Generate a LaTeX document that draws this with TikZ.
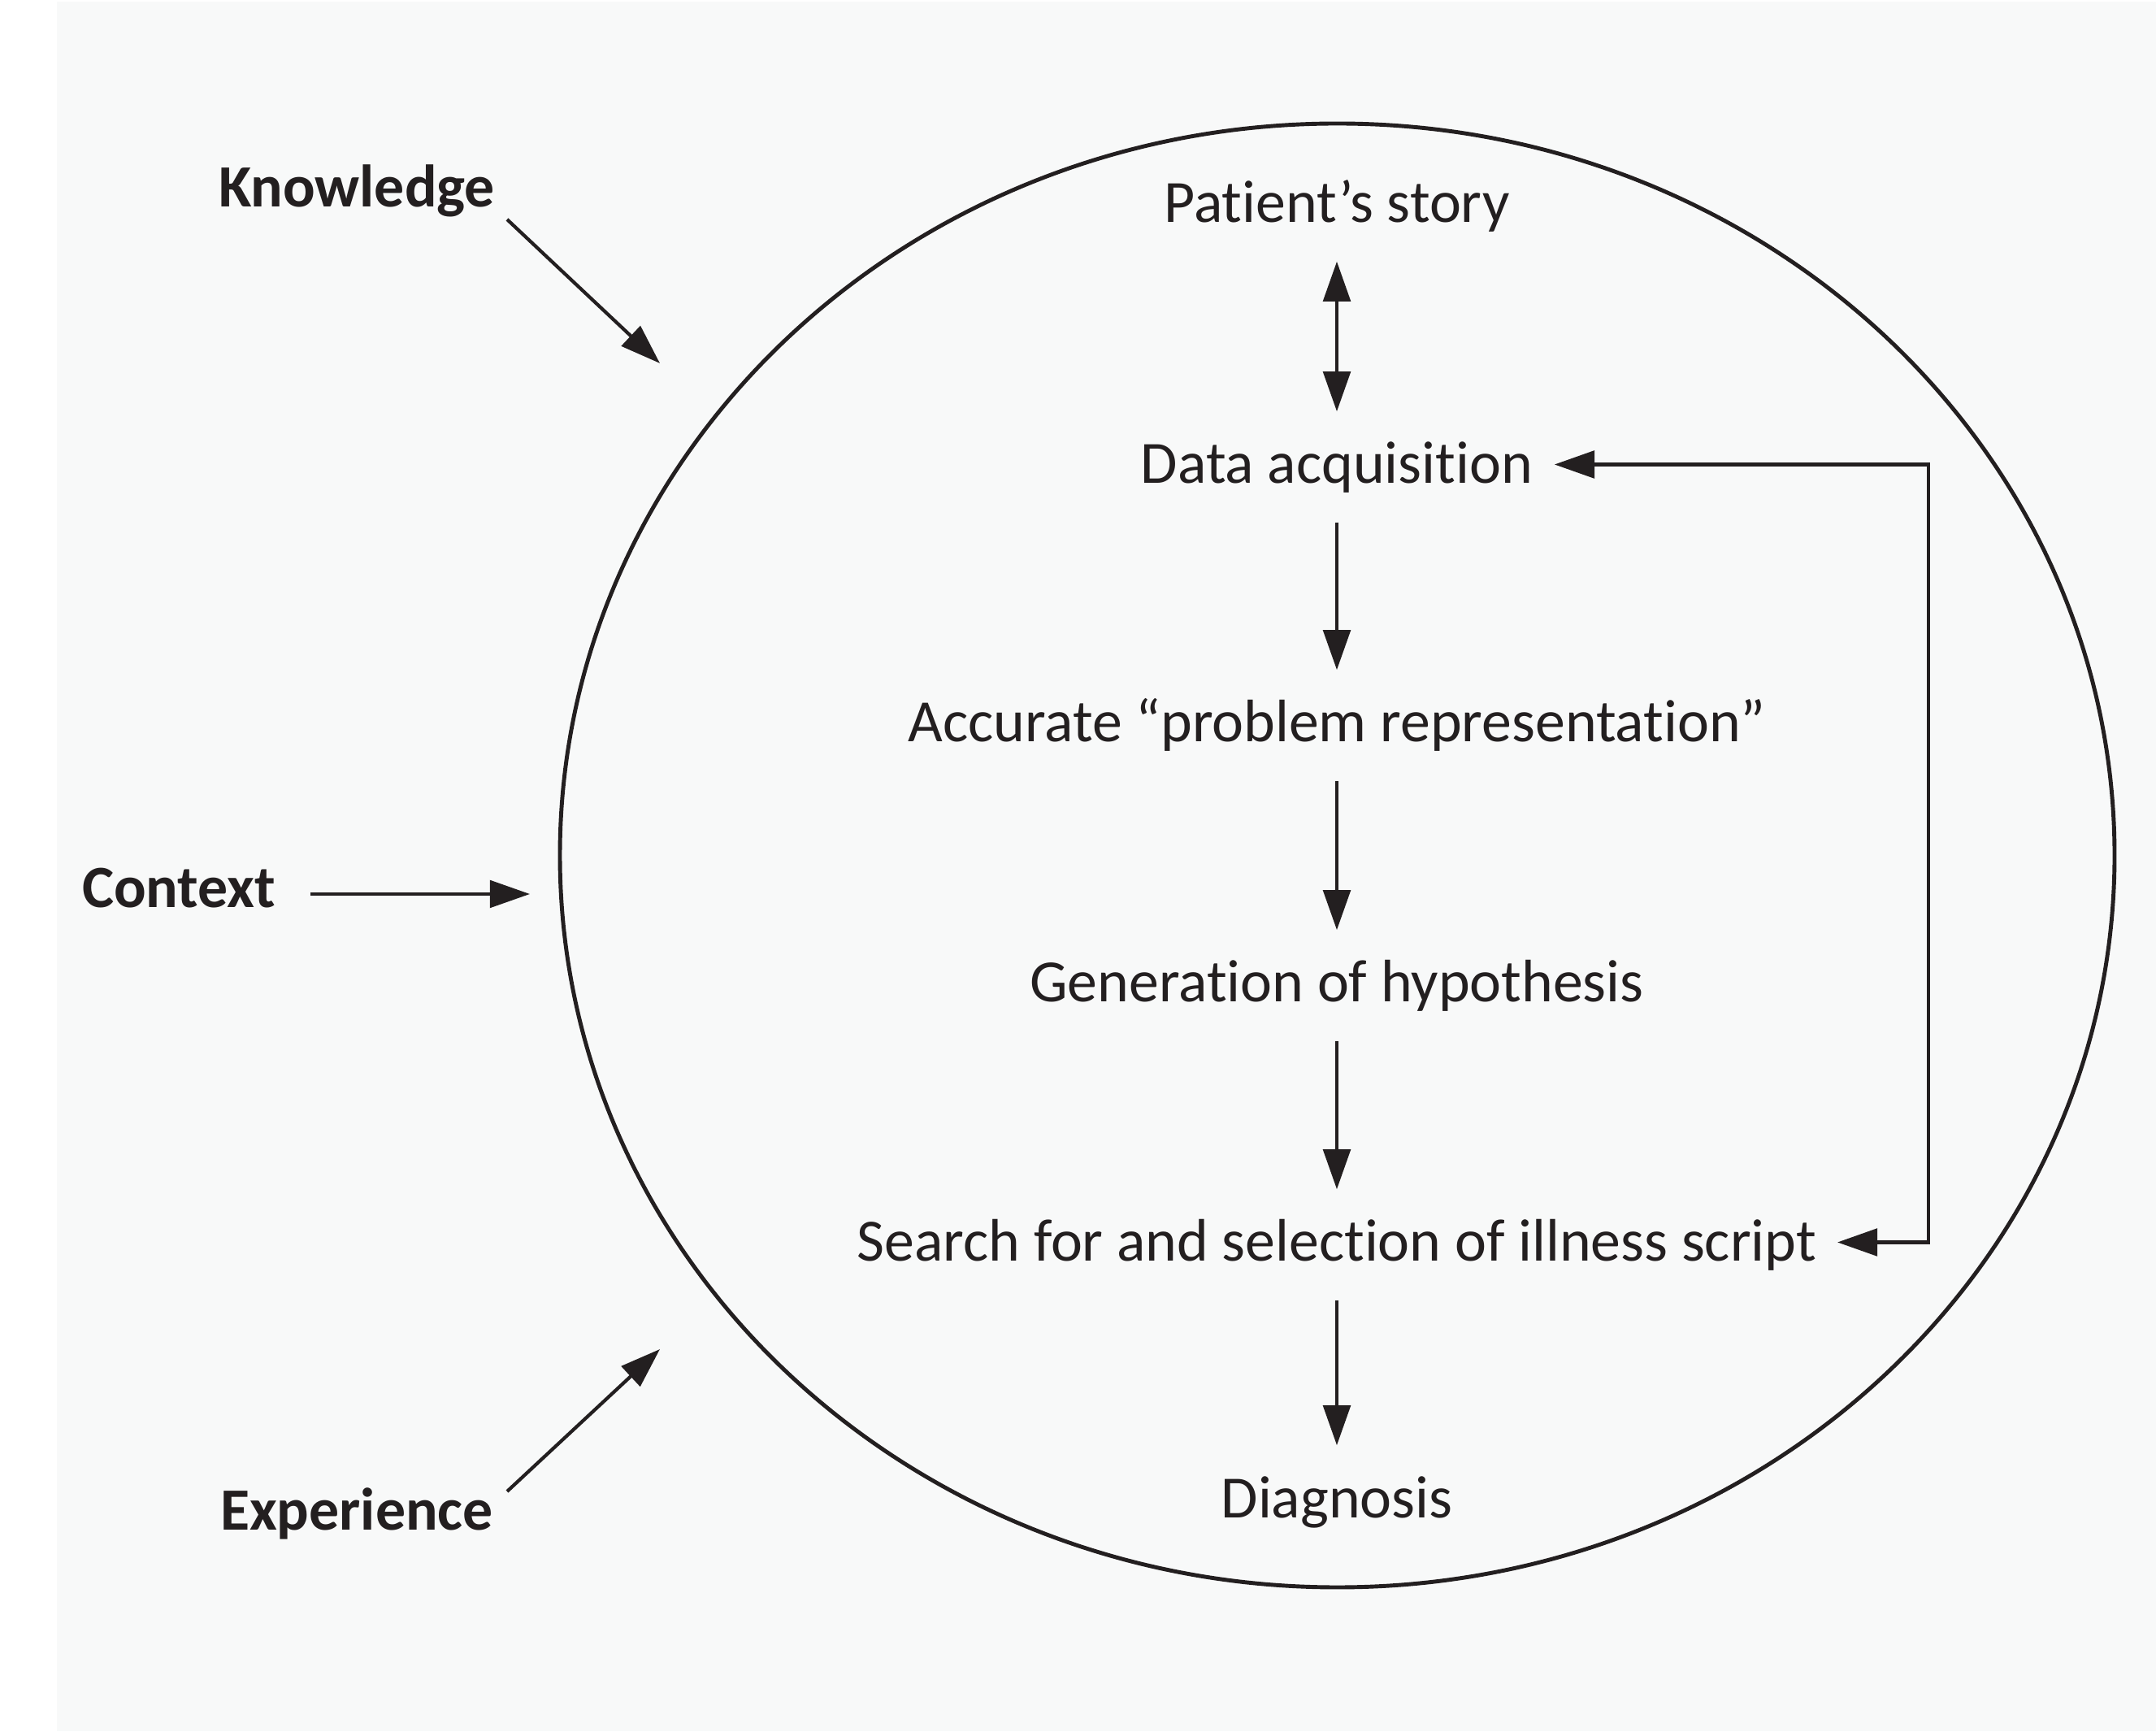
\documentclass[tikz,border=0pt]{standalone}
\usepackage{fontspec}
\setmainfont{Carlito}[Ligatures={NoCommon,NoContextual}]
\usetikzlibrary{arrows.meta}

\definecolor{ink}{RGB}{35,31,32}
\definecolor{paper}{RGB}{248,249,249}

\begin{document}
\begin{tikzpicture}[>={Triangle[length=14pt,width=9.5pt]},
  every node/.style={font=\fontsize{21}{25}\selectfont,text=ink,inner sep=0pt,
    text height=.47cm,text depth=0pt,anchor=base},
  factor/.style={font=\fontsize{21}{25}\selectfont\bfseries},
  flow/.style={->,line width=1.3pt,draw=ink,shorten <=.47cm,shorten >=.41cm},
  feedback/.style={<->,line width=1.3pt,draw=ink,shorten <=.26cm,shorten >=.25cm},
  influence/.style={->,line width=1.2pt,draw=ink}]
\useasboundingbox (0,0) rectangle (26.53,21.30);
\fill[paper] (.70,0) rectangle (26.53,21.28);

% the reasoning circle
\draw[ink,line width=1.4pt] (16.455,10.775) ellipse [x radius=9.565,y radius=9.005];

% stages
\node (story)  at (16.45,18.56) {Patient’s story};
\node (data)   at (16.45,15.35) {Data acquisition};
\node (repr)   at (16.45,12.17) {Accurate “problem representation”};
\node (hypo)   at (16.45,8.97)  {Generation of hypothesis};
\node (script) at (16.45,5.78)  {Search for and selection of illness script};
\node (diag)   at (16.45,2.63)  {Diagnosis};

\draw[flow,<->] (story) -- (data);
\draw[flow] (data) -- (repr);
\draw[flow] (repr) -- (hypo);
\draw[flow] (hypo) -- (script);
\draw[flow] (script) -- (diag);

% loop back from script search to data acquisition
\coordinate (fb) at (23.73,10.5);
\draw[feedback] (data.east) -| (fb) |- (script.east);

% outside factors
\node[factor] (know) at (4.39,18.75) {Knowledge};
\node[factor] (ctx)  at (2.20,10.13) {Context};
\node[factor] (exp)  at (4.39,2.48)  {Experience};
\coordinate (k0) at (6.24,18.60); \coordinate (k1) at (8.12,16.83);
\coordinate (c0) at (3.82,10.30); \coordinate (c1) at (6.52,10.30);
\coordinate (e0) at (6.24,2.95);  \coordinate (e1) at (8.12,4.70);
\draw[influence] (k0) -- (k1);
\draw[influence] (c0) -- (c1);
\draw[influence] (e0) -- (e1);
\end{tikzpicture}
\end{document}
